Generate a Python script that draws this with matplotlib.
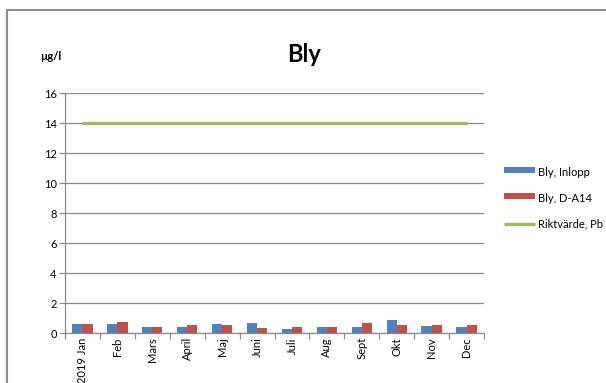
import matplotlib
matplotlib.use("Agg")
import matplotlib.pyplot as plt
import numpy as np
from matplotlib.patches import Rectangle

plt.rcParams['font.family'] = ['Lato', 'DejaVu Sans']

months = ["2019 Jan", "Feb", "Mars", "April", "Maj", "Juni", "Juli",
          "Aug", "Sept", "Okt", "Nov", "Dec"]
inlopp = [0.60, 0.60, 0.37, 0.37, 0.60, 0.67, 0.27, 0.37, 0.42, 0.89, 0.49, 0.37]
da14 = [0.60, 0.75, 0.42, 0.55, 0.55, 0.31, 0.37, 0.42, 0.67, 0.51, 0.51, 0.51]
riktvarde = [14] * 12
yticks = [0, 2, 4, 6, 8, 10, 12, 14, 16]

fig = plt.figure(figsize=(6.06, 3.83), dpi=100)
fig.patches.append(Rectangle((7 / 606, -0.1), 1.2, 1 - 10.5 / 383 + 0.1,
                             transform=fig.transFigure, fill=False,
                             edgecolor="#8c8c8c", linewidth=1.5))

ax = fig.add_axes([65 / 606, 1 - 333 / 383, (484 - 65) / 606, (333 - 93) / 383])
x = np.arange(len(months))
w = 0.29
b1 = ax.bar(x - w / 2, inlopp, w, color="#4F81BD", label="Bly, Inlopp", zorder=3)
b2 = ax.bar(x + w / 2, da14, w, color="#C0504D", label="Bly, D-A14", zorder=3)
ln, = ax.plot(x, riktvarde, color="#9BBB59", linewidth=2.4, label="Riktvärde, Pb",
              zorder=4, solid_capstyle="butt")

ax.set_xlim(-0.5, len(months) - 0.5)
ax.set_ylim(0, 16)
ax.set_yticks(yticks)
ax.set_yticklabels([str(v) for v in yticks], fontsize=8)
ax.yaxis.grid(True, color="#8a8a8a", linewidth=0.9, zorder=0)
ax.set_axisbelow(True)

ax.set_xticks(np.arange(len(months) + 1) - 0.5)
ax.set_xticklabels([])
ax.set_xticks(x, minor=True)
ax.set_xticklabels(months, minor=True, rotation=90, fontsize=8)
ax.tick_params(axis="x", which="minor", length=0, pad=3)
ax.tick_params(axis="x", which="major", length=4, color="#8a8a8a", width=0.9)
ax.tick_params(axis="y", length=4, color="#8a8a8a", width=0.9, pad=2)

for s in ["top", "right"]:
    ax.spines[s].set_visible(False)
for s in ["left", "bottom"]:
    ax.spines[s].set_color("#8a8a8a")
    ax.spines[s].set_linewidth(0.9)

fig.text(304 / 606, 1 - 55 / 383, "Bly", ha="center", va="center",
         fontsize=17, fontweight="bold")
fig.text(40 / 606, 1 - 56 / 383, "µg/l", ha="left", va="center",
         fontsize=8, fontweight="bold")

leg = fig.legend([b1, b2, ln], ["Bly, Inlopp", "Bly, D-A14", "Riktvärde, Pb"],
                 loc="center left", bbox_to_anchor=(494 / 606, 1 - 198 / 383),
                 frameon=False, fontsize=8, handlelength=2.8, handletextpad=0.3,
                 labelspacing=1.35)
for h in leg.legend_handles:
    if hasattr(h, "set_height"):
        h.set_height(4)
        h.set_y(2)

fig.savefig("out.png", dpi=100)
